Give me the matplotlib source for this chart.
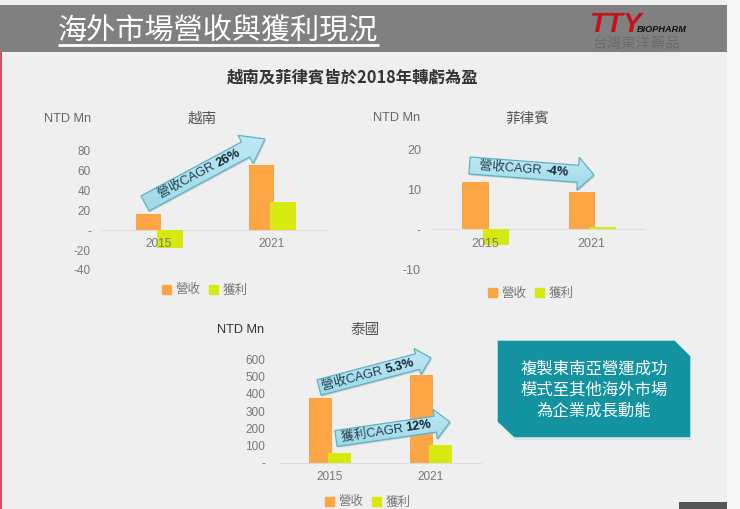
"""Overseas revenue and profit slide: Vietnam, Philippines, Thailand."""

import numpy as np
import matplotlib
matplotlib.use('Agg')
import matplotlib.pyplot as plt
from matplotlib.colors import LinearSegmentedColormap
from matplotlib.patches import Polygon, Rectangle, Patch

W, H = 740, 509
FONTS = ['Liberation Sans', 'Noto Sans CJK TC']
CJK = ['Noto Sans CJK TC', 'Liberation Sans']

ORANGE = '#fba544'
GREEN = '#d6ea12'
GREY = '#777777'

years = ['2015', '2021']
series_names = ['營收', '獲利']

vn_revenue = [16, 65]
vn_profit = [-18, 28]
vn_ticks = [-40, -20, 0, 20, 40, 60, 80]

ph_revenue = [12, 9.5]
ph_profit = [-4, 0.5]
ph_ticks = [-10, 0, 10, 20]

th_revenue = [375, 505]
th_profit = [55, 105]
th_ticks = [0, 100, 200, 300, 400, 500, 600]

box_lines = '複製東南亞營運成功\n模式至其他海外市場\n為企業成長動能'

plt.rcParams['font.family'] = FONTS
fig = plt.figure(figsize=(W / 100, H / 100), dpi=100, facecolor='#efefef')


def full_axes(zorder):
    ax = fig.add_axes([0, 0, 1, 1], zorder=zorder)
    ax.set_xlim(0, W)
    ax.set_ylim(H, 0)
    ax.axis('off')
    ax.patch.set_alpha(0)
    return ax


def bar_chart(left, right, y_top, y_bottom, ymax, ymin, revenue, profit, ticks,
              width, pad, legend_xy, size=8.5):
    """One small bar chart; the box is given in picture pixels."""
    ax = fig.add_axes([left / W, 1 - y_bottom / H, (right - left) / W, (y_bottom - y_top) / H],
                      zorder=1)
    ax.patch.set_alpha(0)
    x = np.arange(len(years))
    ax.bar(x - 0.09, revenue, width, color=ORANGE, zorder=2)
    ax.bar(x + 0.10, profit, width, color=GREEN, zorder=2)
    ax.set_xlim(-0.5, 1.5)
    ax.set_ylim(ymin, ymax)
    ax.set_xticks(x, years)
    ax.set_yticks(ticks, [f'{t}' if t else '-' for t in ticks])
    for side in ['top', 'right', 'left']:
        ax.spines[side].set_visible(False)
    ax.spines['bottom'].set_position('zero')
    ax.spines['bottom'].set_color('#dddddd')
    ax.spines['bottom'].set_zorder(1)
    ax.tick_params(axis='x', length=0, pad=6, labelsize=size, labelcolor=GREY)
    ax.tick_params(axis='y', length=0, pad=pad, labelsize=size, labelcolor=GREY)
    # year labels stay readable where a negative bar runs over them
    ax.xaxis.set_zorder(5)
    handles = [Patch(color=ORANGE, label=series_names[0]), Patch(color=GREEN, label=series_names[1])]
    ax.legend(handles=handles, loc='center', ncol=2, frameon=False,
              labelcolor=GREY, handlelength=0.72, handleheight=0.72, handletextpad=0.35,
              columnspacing=0.7, borderpad=0, prop={'family': CJK, 'size': 9},
              bbox_to_anchor=(legend_xy[0] / W, 1 - legend_xy[1] / H),
              bbox_transform=fig.transFigure)
    return ax


def block_arrow(ax, start, end, shaft, head, head_len, plain, bold, split, size=9.2):
    """Light blue block arrow with its label laid along the shaft."""
    p0 = np.array(start, float)
    p1 = np.array(end, float)
    u = (p1 - p0) / np.hypot(*(p1 - p0))
    n = np.array([-u[1], u[0]])
    neck = p1 - u * head_len
    pts = [p0 + n * shaft / 2, neck + n * shaft / 2, neck + n * head / 2, p1,
           neck - n * head / 2, neck - n * shaft / 2, p0 - n * shaft / 2]
    shadow = Polygon(np.array(pts) + [1, 1.5], closed=True, fc='#b5b5b5', ec='none', alpha=0.6, zorder=3)
    ax.add_patch(shadow)
    xs, ys = zip(*pts)
    grad = np.linspace(0, 1, 64).reshape(-1, 1)
    im = ax.imshow(grad, cmap=LinearSegmentedColormap.from_list('sky', ['#bfe9f4', '#9fd9e9']),
                   extent=(min(xs), max(xs), max(ys), min(ys)), aspect='auto', zorder=4)
    outline = Polygon(pts, closed=True, fc='none', ec='#5fb2c6', lw=0.9, zorder=5)
    ax.add_patch(outline)
    im.set_clip_path(outline)
    ax.set_xlim(0, W)
    ax.set_ylim(H, 0)
    angle = np.degrees(np.arctan2(-u[1], u[0]))
    mid = p0 + u * split
    ax.text(mid[0], mid[1], plain, rotation=angle, rotation_mode='anchor', ha='right', va='center',
            fontsize=size, color='#24404d', family=FONTS, zorder=6)
    ax.text(mid[0], mid[1], bold, rotation=angle, rotation_mode='anchor', ha='left', va='center',
            fontsize=size, color='#10242e', fontweight='bold', family=FONTS, zorder=6)


bg = full_axes(0)
bg.add_patch(Rectangle((0, 5), 727, 47, fc='#808080', ec='none'))
bg.add_patch(Rectangle((0, 52), 2, H - 52, fc='#d0535b', ec='none'))
bg.add_patch(Rectangle((727, 0), W - 727, H, fc='#f7f7f7', ec='none'))
bg.add_patch(Rectangle((679, 502), 48, 7, fc='#555555', ec='none'))

bar_chart(102, 328, 150.5, 270, 80, -40, vn_revenue, vn_profit, vn_ticks, 0.225, 8, (205, 290))
bar_chart(432, 645, 150, 269, 20, -10, ph_revenue, ph_profit, ph_ticks, 0.25, 8, (531, 293), size=9)
bar_chart(279, 481, 359, 463, 600, 0, th_revenue, th_profit, th_ticks, 0.22, 10, (368, 502))

top = full_axes(2)
top.text(58, 32, '海外市場營收與獲利現況', fontsize=21, color='white', family=CJK, va='center', ha='left')
top.plot([58, 379], [45, 45], color='white', lw=2, solid_capstyle='butt')
top.text(353, 78, '越南及菲律賓皆於2018年轉虧為盈', fontsize=11.8, color='#333333', family=CJK,
         fontweight='bold', ha='center', va='center')

# logo
top.text(589, 25, 'TTY', fontsize=20, color='#c8101a', fontweight='bold', style='italic',
         ha='left', va='center', family=FONTS)
top.text(637, 29, 'BIOPHARM', fontsize=6.6, color='#111111', fontweight='bold', style='italic',
         ha='left', va='center', family=FONTS)
top.text(636, 44, '台灣東洋藥品', fontsize=10.5, color='#6b6b6b', ha='center', va='center', family=CJK)

# panel headings
for x, y, s in [(202, 119, '越南'), (527, 119, '菲律賓'), (365, 330, '泰國')]:
    top.text(x, y, s, fontsize=10.5, color='#555555', ha='center', va='center', family=CJK)
for x, y, c in [(91, 119, '#666666'), (420, 118, '#666666'), (264, 330, '#333333')]:
    top.text(x, y, 'NTD Mn', fontsize=9.2, color=c, ha='right', va='center', family=FONTS)

block_arrow(top, (145, 203.5), (265, 139), 17, 32, 22, '營收CAGR ', '26%', 82)
block_arrow(top, (469.5, 165.5), (594, 175), 17, 33, 16, '營收CAGR ', '-4%', 76)
block_arrow(top, (319, 387.5), (431, 358), 16, 27, 14, '營收CAGR ', '5.3%', 69)
block_arrow(top, (336, 438.5), (450, 422), 16, 30, 15, '獲利CAGR ', '12%', 71)

# teal call-out box
box = [(497, 340), (675, 340), (691, 356), (691, 438), (514, 438), (497, 422)]
top.add_patch(Polygon(np.array(box) + [0.5, 1.5], closed=True, fc='#cccccc', ec='none', zorder=3))
top.add_patch(Polygon(box, closed=True, fc='#12939f', ec='#e8f6f8', lw=1.0, zorder=4))
top.text(594, 390, box_lines, fontsize=11.8, color='white', ha='center', va='center',
         linespacing=1.3, family=CJK, zorder=5)

fig.savefig('out.png', dpi=100)
plt.close(fig)
